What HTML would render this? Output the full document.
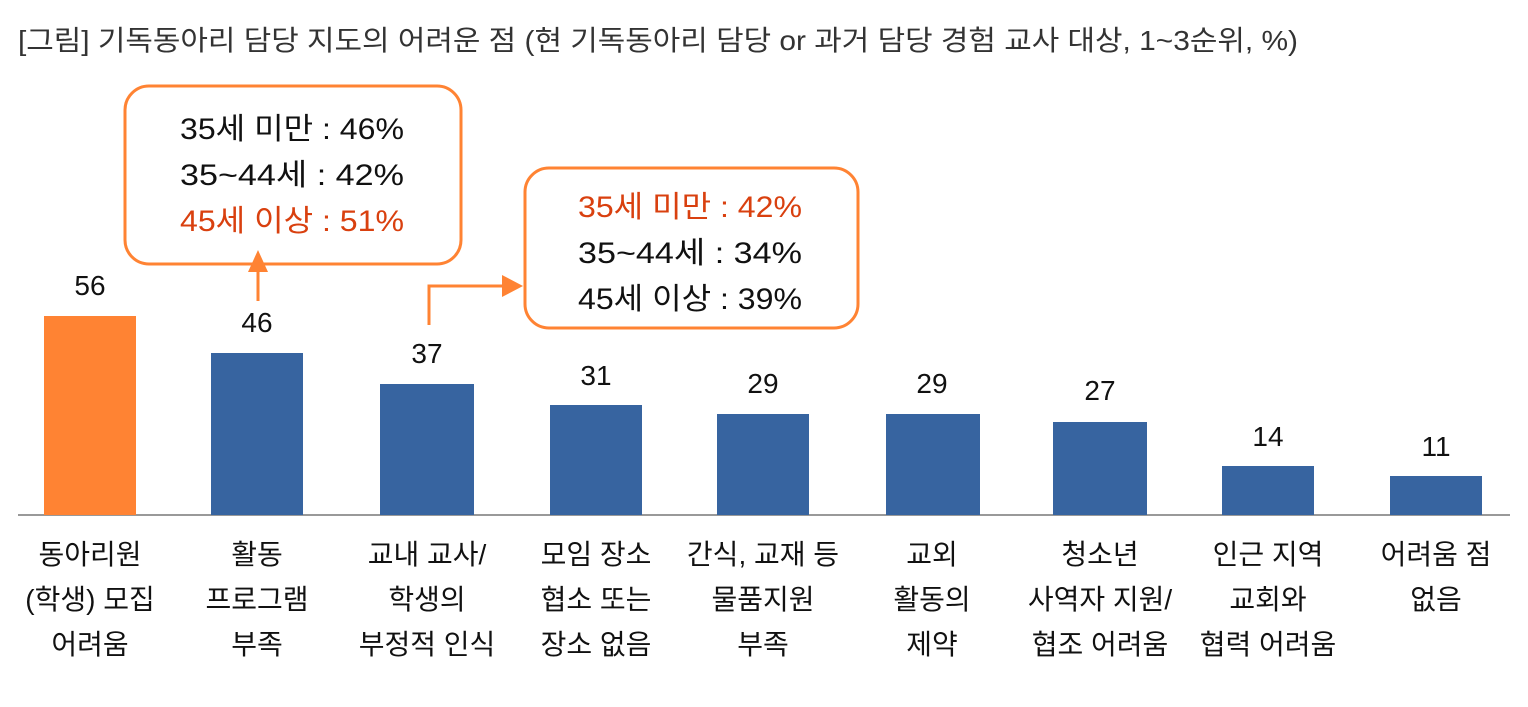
<!DOCTYPE html><html><head><meta charset="utf-8"><style>
body{margin:0;width:1528px;height:702px;background:#fff;overflow:hidden;font-family:"Liberation Sans","Noto Sans CJK KR",sans-serif;}
</style></head><body>
<svg width="1528" height="702" xmlns="http://www.w3.org/2000/svg" font-family="Liberation Sans, Noto Sans CJK KR, sans-serif">
<text x="18" y="50" font-size="28" fill="#333" textLength="1280" lengthAdjust="spacingAndGlyphs">[그림] 기독동아리 담당 지도의 어려운 점 (현 기독동아리 담당 or 과거 담당 경험 교사 대상, 1~3순위, %)</text>
<line x1="18" y1="515" x2="1510" y2="515" stroke="#999" stroke-width="2"/>
<g>
<rect x="44" y="316" width="92" height="199" fill="#FF8333"/>
<rect x="211" y="353" width="92" height="162" fill="#3764A0"/>
<rect x="380" y="384" width="94" height="131" fill="#3764A0"/>
<rect x="550" y="405" width="92" height="110" fill="#3764A0"/>
<rect x="717" y="414" width="92" height="101" fill="#3764A0"/>
<rect x="886" y="414" width="94" height="101" fill="#3764A0"/>
<rect x="1053" y="422" width="94" height="93" fill="#3764A0"/>
<rect x="1222" y="466" width="92" height="49" fill="#3764A0"/>
<rect x="1390" y="476" width="92" height="39" fill="#3764A0"/>
</g>
<g font-size="28" fill="#111" text-anchor="middle">
<text x="90" y="295">56</text><text x="257" y="332">46</text><text x="427" y="363">37</text>
<text x="596" y="385">31</text><text x="763" y="393">29</text><text x="932" y="393">29</text>
<text x="1100" y="400">27</text><text x="1268" y="446">14</text><text x="1436" y="456">11</text>
</g>
<g font-size="28" fill="#111" text-anchor="middle">
<text x="90" y="564">동아리원</text><text x="90" y="609">(학생) 모집</text><text x="90" y="654">어려움</text>
<text x="257" y="564">활동</text><text x="257" y="609">프로그램</text><text x="257" y="654">부족</text>
<text x="427" y="564">교내 교사/</text><text x="427" y="609">학생의</text><text x="427" y="654">부정적 인식</text>
<text x="596" y="564">모임 장소</text><text x="596" y="609">협소 또는</text><text x="596" y="654">장소 없음</text>
<text x="763" y="564">간식, 교재 등</text><text x="763" y="609">물품지원</text><text x="763" y="654">부족</text>
<text x="932" y="564">교외</text><text x="932" y="609">활동의</text><text x="932" y="654">제약</text>
<text x="1100" y="564">청소년</text><text x="1100" y="609">사역자 지원/</text><text x="1100" y="654">협조 어려움</text>
<text x="1268" y="564">인근 지역</text><text x="1268" y="609">교회와</text><text x="1268" y="654">협력 어려움</text>
<text x="1436" y="564">어려움 점</text><text x="1436" y="609">없음</text>
</g>
<rect x="125" y="86" width="336" height="178" rx="24" fill="#fff" stroke="#FF8333" stroke-width="3"/>
<g font-size="30">
<text x="180" y="139" fill="#111" textLength="224" lengthAdjust="spacingAndGlyphs">35세 미만 : 46%</text>
<text x="180" y="185" fill="#111" textLength="224" lengthAdjust="spacingAndGlyphs">35~44세 : 42%</text>
<text x="180" y="231" fill="#D9400F" textLength="224" lengthAdjust="spacingAndGlyphs">45세 이상 : 51%</text>
</g>
<line x1="258" y1="301" x2="258" y2="268" stroke="#FF8333" stroke-width="3"/>
<polygon points="248,272 268,272 258,250" fill="#FF8333"/>
<rect x="525" y="168" width="333" height="160" rx="24" fill="#fff" stroke="#FF8333" stroke-width="3"/>
<g font-size="30">
<text x="578" y="217" fill="#D9400F" textLength="224" lengthAdjust="spacingAndGlyphs">35세 미만 : 42%</text>
<text x="578" y="263" fill="#111" textLength="224" lengthAdjust="spacingAndGlyphs">35~44세 : 34%</text>
<text x="578" y="309" fill="#111" textLength="224" lengthAdjust="spacingAndGlyphs">45세 이상 : 39%</text>
</g>
<polyline points="429,325 429,286 506,286" fill="none" stroke="#FF8333" stroke-width="3"/>
<polygon points="502,275 502,297 523,286" fill="#FF8333"/>
</svg>
</body></html>
